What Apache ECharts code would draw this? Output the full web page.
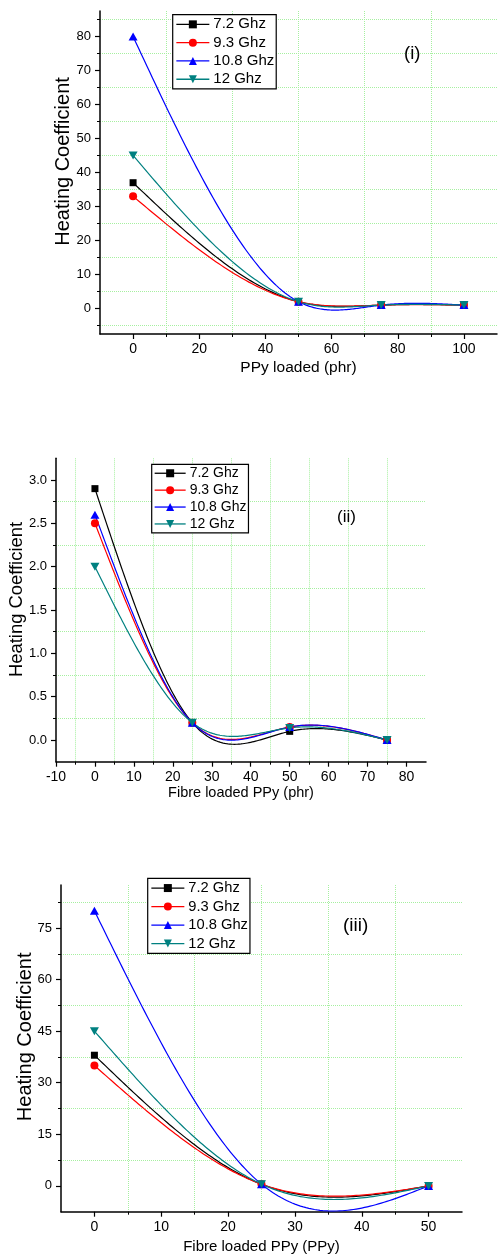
<!DOCTYPE html>
<html>
<head>
<meta charset="utf-8">
<script src="https://cdn.jsdelivr.net/npm/echarts@6/dist/echarts.min.js"></script>
<style>
html,body{margin:0;padding:0;background:#fff;}
#c{width:498px;height:1259px;}
</style>
</head>
<body>
<div id="c"></div>
<script>
// ---------------- data ----------------
const SERIES_NAMES = ['7.2 Ghz', '9.3 Ghz', '10.8 Ghz', '12 Ghz'];

// Panel (i): PPy loaded (phr)
const X1 = [0, 50, 75, 100];
const P1_72 = [37, 2, 1, 1];
const P1_93 = [33, 2, 1, 1];
const P1_108 = [80, 2, 1, 1];
const P1_12 = [45, 2, 1, 1];

// Panel (ii): Fibre loaded PPy (phr)
const X2 = [0, 25, 50, 75];
const P2_72 = [2.9, 0.2, 0.1, 0.0];
const P2_93 = [2.5, 0.2, 0.15, 0.0];
const P2_108 = [2.6, 0.2, 0.15, 0.0];
const P2_12 = [2.0, 0.2, 0.14, 0.0];

// Panel (iii): Fibre loaded PPy (PPy)
const X3 = [0, 25, 50];
const P3_72 = [38, 0.5, 0];
const P3_93 = [35, 0.5, 0];
const P3_108 = [80, 0.5, 0];
const P3_12 = [45, 0.5, 0];

// tick labels
const X1_TICKS = [0, 20, 40, 60, 80, 100];
const Y1_TICKS = [0, 10, 20, 30, 40, 50, 60, 70, 80];
const X2_TICKS = [-10, 0, 10, 20, 30, 40, 50, 60, 70, 80];
const Y2_TICKS = [0, 0.5, 1.0, 1.5, 2.0, 2.5, 3.0];
const X3_TICKS = [0, 10, 20, 30, 40, 50];
const Y3_TICKS = [0, 15, 30, 45, 60, 75];

// ---------------- style ----------------
const COLORS = ['#000000', '#ff0000', '#0000ff', '#008080'];
const SYMBOLS = ['rect', 'circle', 'triangle', 'triangle'];
const SYM_SIZE = [7, 8, [9, 8], [9, 8]];
const SYM_ROT = [0, 0, 0, 180];
const SANS = "'Liberation Sans', Arial, sans-serif";
const GRIDLINE = '#a6f0a0';

// natural cubic spline (used only to render the connecting curve)
function makeSpline(xs, ys) {
  const n = xs.length;
  const h = [];
  for (let i = 0; i < n - 1; i++) h.push(xs[i + 1] - xs[i]);
  const M = new Array(n).fill(0);
  if (n > 2) {
    const m = n - 2;
    const a = [], b = [], c = [], d = [];
    for (let i = 1; i <= m; i++) {
      a.push(h[i - 1]);
      b.push(2 * (h[i - 1] + h[i]));
      c.push(h[i]);
      d.push(6 * ((ys[i + 1] - ys[i]) / h[i] - (ys[i] - ys[i - 1]) / h[i - 1]));
    }
    for (let i = 1; i < m; i++) {
      const w = a[i] / b[i - 1];
      b[i] -= w * c[i - 1];
      d[i] -= w * d[i - 1];
    }
    const sol = new Array(m);
    sol[m - 1] = d[m - 1] / b[m - 1];
    for (let i = m - 2; i >= 0; i--) sol[i] = (d[i] - c[i] * sol[i + 1]) / b[i];
    for (let i = 0; i < m; i++) M[i + 1] = sol[i];
  }
  return function (x, i) {
    const hi = h[i], t1 = xs[i + 1] - x, t0 = x - xs[i];
    return M[i] * t1 * t1 * t1 / (6 * hi) + M[i + 1] * t0 * t0 * t0 / (6 * hi)
      + (ys[i] / hi - M[i] * hi / 6) * t1 + (ys[i + 1] / hi - M[i + 1] * hi / 6) * t0;
  };
}

const panels = [
  {xs: X1, ys: [P1_72, P1_93, P1_108, P1_12]},
  {xs: X2, ys: [P2_72, P2_93, P2_108, P2_12]},
  {xs: X3, ys: [P3_72, P3_93, P3_108, P3_12]}
];

const series = [];
panels.forEach((p, gi) => {
  p.ys.forEach((ys, si) => {
    const spline = makeSpline(p.xs, ys);
    const pairs = p.xs.map((x, k) => [x, ys[k]]);
    const color = COLORS[si];
    series.push({
      type: 'custom',
      name: SERIES_NAMES[si] + ' curve',
      xAxisIndex: gi, yAxisIndex: gi,
      z: 2,
      clip: true,
      silent: true,
      data: pairs,
      encode: {x: 0, y: 1},
      renderItem: function (params, api) {
        const i = params.dataIndex;
        if (i >= p.xs.length - 1) return {type: 'group', children: []};
        const pts = [];
        const N = 60;
        for (let k = 0; k <= N; k++) {
          const x = p.xs[i] + (p.xs[i + 1] - p.xs[i]) * k / N;
          pts.push(api.coord([x, spline(x, i)]));
        }
        return {
          type: 'polyline',
          shape: {points: pts},
          style: {stroke: color, lineWidth: 1.2, fill: null}
        };
      }
    });
  });
  p.ys.forEach((ys, si) => {
    series.push({
      type: 'line',
      name: SERIES_NAMES[si],
      xAxisIndex: gi, yAxisIndex: gi,
      z: 3,
      data: p.xs.map((x, k) => [x, ys[k]]),
      symbol: SYMBOLS[si],
      symbolSize: SYM_SIZE[si],
      symbolRotate: SYM_ROT[si],
      showAllSymbol: true,
      itemStyle: {color: COLORS[si]},
      lineStyle: {color: COLORS[si], width: 0},
      emphasis: {disabled: true}
    });
  });
});

function axisBase(ticks, min, max, step, fmt, labelSize, margin) {
  return {
    type: 'value',
    min: min, max: max,
    minInterval: step, maxInterval: step,
    axisLine: {show: true, onZero: false, lineStyle: {color: '#000', width: 1.5}},
    axisTick: {show: true, inside: false, length: 5, customValues: ticks, lineStyle: {color: '#000', width: 1.2}},
    minorTick: {show: true, splitNumber: 2, length: 3, lineStyle: {color: '#000', width: 1}},
    splitLine: {show: false},
    minorSplitLine: {show: true, lineStyle: {color: GRIDLINE, type: 'dotted', width: 1}},
    axisLabel: {
      customValues: ticks, color: '#000', fontFamily: SANS, fontSize: labelSize, margin: margin,
      formatter: fmt
    },
    nameMoveOverlap: false,
    nameTextStyle: {color: '#000'}
  };
}

function xAxis(gi, ticks, min, max, step, name, nameSize, nameGap, fmt) {
  return Object.assign(axisBase(ticks, min, max, step, fmt || (v => String(v)), 14, 8), {
    gridIndex: gi, position: 'bottom',
    name: name, nameLocation: 'middle', nameGap: nameGap,
    nameTextStyle: {color: '#000', fontFamily: SANS, fontSize: nameSize}
  });
}
function yAxis(gi, ticks, min, max, step, nameSize, nameGap, shift, fmt) {
  return Object.assign(axisBase(ticks, min, max, step, fmt || (v => String(v)), 13, 9), {
    gridIndex: gi, position: 'left',
    name: 'Heating Coefficient', nameLocation: 'middle', nameGap: nameGap,
    nameTextStyle: {color: '#000', fontFamily: SANS, fontSize: nameSize, padding: [0, 0, 0, shift]}
  });
}

function legend(left, top, fontSize, lineHeight, itemWidth, padL) {
  return {
    data: SERIES_NAMES,
    orient: 'vertical',
    left: left, top: top,
    padding: [1, 2, 1, padL],
    itemGap: 1,
    itemWidth: itemWidth, itemHeight: 10,
    borderColor: '#000', borderWidth: 1.2,
    backgroundColor: '#fff',
    selectedMode: false,
    lineStyle: {width: 1.3, opacity: 1},
    textStyle: {color: '#000', fontFamily: SANS, fontSize: fontSize, lineHeight: lineHeight, padding: [0, 0, 0, -1]}
  };
}

function label(text, left, top, size) {
  return {
    text: text, left: left, top: top, padding: 0,
    textStyle: {color: '#000', fontFamily: SANS, fontSize: size, fontWeight: 'normal'}
  };
}

const option = {
  animation: false,
  backgroundColor: '#fff',
  title: [label('(i)', 404, 44, 18.5), label('(ii)', 337, 509, 17), label('(iii)', 343, 916, 19)],
  grid: [
    {left: 100, top: 11, width: 397, height: 323},
    {left: 53.3, top: 458.3, width: 372.7, height: 303.4},
    {left: 61, top: 885, width: 401, height: 326.7}
  ],
  xAxis: [
    xAxis(0, X1_TICKS, -10, 110, 20, 'PPy loaded (phr)', 15.5, 26),
    xAxis(1, X2_TICKS, -10, 85, 10, 'Fibre loaded PPy (phr)', 14.5, 24),
    xAxis(2, X3_TICKS, -5, 55, 10, 'Fibre loaded PPy (PPy)', 15, 28)
  ],
  yAxis: [
    yAxis(0, Y1_TICKS, -7.5, 87.5, 10, 20, 27, 22),
    yAxis(1, Y2_TICKS, -0.25, 3.25, 0.5, 18.4, 30, 21, v => v.toFixed(1)),
    yAxis(2, Y3_TICKS, -7.5, 87.5, 15, 20, 26, 23)
  ],
  legend: [
    legend(172.7, 14.7, 15, 17.3, 33, 3),
    legend(151.7, 464.3, 14, 15.9, 31, 2.3),
    legend(147.7, 878.3, 14.7, 17.5, 33, 3)
  ],
  series: series
};

const chart = echarts.init(document.getElementById('c'), null, {renderer: 'canvas'});
chart.setOption(option);
</script>
</body>
</html>
